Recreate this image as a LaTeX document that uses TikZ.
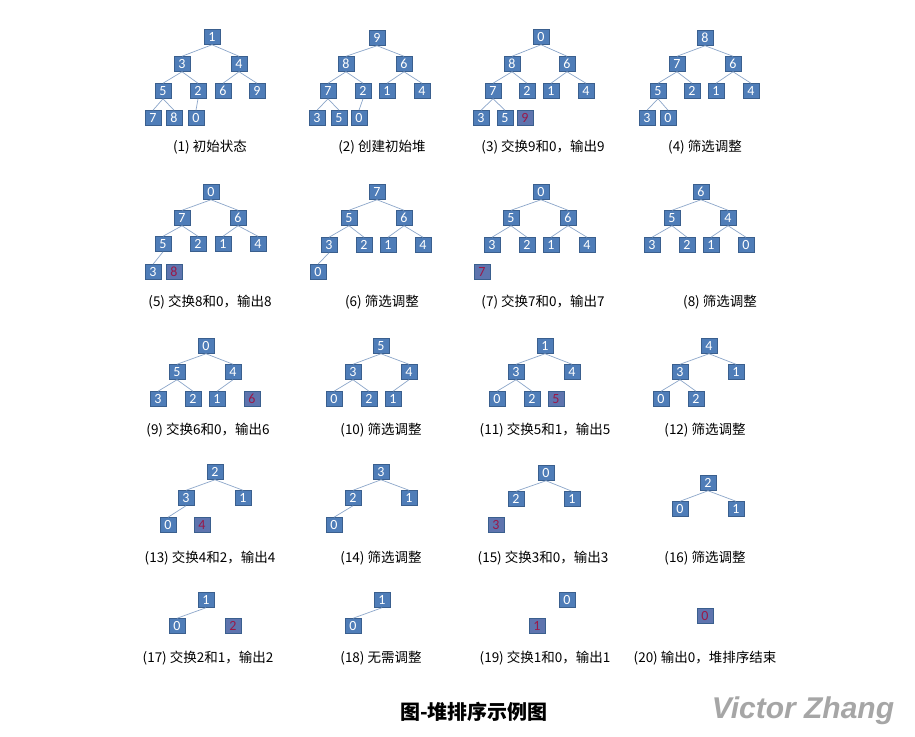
\documentclass[tikz,border=0pt]{standalone}
\usepackage{fontspec}
\setmainfont{Carlito}
\newfontfamily\cjk{Noto Sans CJK SC}
\newfontfamily\wmfont{Liberation Sans}
\definecolor{boxfill}{HTML}{4F7DB8}
\definecolor{boxline}{HTML}{3A5F8E}
\definecolor{outfill}{HTML}{5E74AE}
\definecolor{outtext}{HTML}{9A1848}
\definecolor{edgecol}{HTML}{8CA6CA}
\begin{document}
\begin{tikzpicture}[x=1pt,y=-1pt,
  box/.style={draw=boxline,fill=boxfill,line width=0.5pt,minimum width=16pt,minimum height=15pt,inner sep=0pt,text=white,font=\fontsize{14}{14}\selectfont},
  outbox/.style={box,fill=outfill,text=outtext},
  edge/.style={draw=edgecol,line width=0.7pt},
  lab/.style={font=\cjk\fontsize{13.5}{15}\selectfont,text=black,inner sep=0pt}]
\useasboundingbox (0,0) rectangle (915,736);
\fill[white] (0,0) rectangle (915,736);
\newcommand\lnk[2]{\draw[edge] (#1.south) -- (#2.north);}
% Panel 1
\node[box] (a1) at (212,37) {1};
\node[box] (a3) at (182,64) {3};
\node[box] (a4) at (239,64) {4};
\node[box] (a5) at (163,91) {5};
\node[box] (a2) at (198,91) {2};
\node[box] (a6) at (223,91) {6};
\node[box] (a9) at (257,91) {9};
\node[box] (a7) at (153,118) {7};
\node[box] (a8) at (174,118) {8};
\node[box] (a0) at (196,118) {0};
\lnk{a1}{a3}\lnk{a1}{a4}\lnk{a3}{a5}\lnk{a3}{a2}\lnk{a4}{a6}\lnk{a4}{a9}\lnk{a5}{a7}\lnk{a5}{a8}\lnk{a2}{a0}
\node[lab] (la) at (210,147) {(1) 初始状态};
% Panel 2
\node[box] (b9) at (377,38) {9};
\node[box] (b8) at (346,64) {8};
\node[box] (b6) at (404,64) {6};
\node[box] (b7) at (328,91) {7};
\node[box] (b2) at (363,91) {2};
\node[box] (b1) at (387,91) {1};
\node[box] (b4) at (422,91) {4};
\node[box] (b3) at (317,118) {3};
\node[box] (b5) at (339,118) {5};
\node[box] (b0) at (359,118) {0};
\lnk{b9}{b8}\lnk{b9}{b6}\lnk{b8}{b7}\lnk{b8}{b2}\lnk{b6}{b1}\lnk{b6}{b4}\lnk{b7}{b3}\lnk{b7}{b5}\lnk{b2}{b0}
\node[lab] (lb) at (382,147) {(2) 创建初始堆};
% Panel 3
\node[box] (c0) at (541,37) {0};
\node[box] (c8) at (512,64) {8};
\node[box] (c6) at (567,64) {6};
\node[box] (c7) at (493,91) {7};
\node[box] (c2) at (527,91) {2};
\node[box] (c1) at (551,91) {1};
\node[box] (c4) at (586,91) {4};
\node[box] (c3) at (481,118) {3};
\node[box] (c5) at (505,118) {5};
\node[outbox] (c9) at (525,118) {9};
\lnk{c0}{c8}\lnk{c0}{c6}\lnk{c8}{c7}\lnk{c8}{c2}\lnk{c6}{c1}\lnk{c6}{c4}\lnk{c7}{c3}\lnk{c7}{c5}
\node[lab] (lc) at (543,147) {(3) 交换9和0，输出9};
% Panel 4
\node[box] (d8) at (705,38) {8};
\node[box] (d7) at (677,64) {7};
\node[box] (d6) at (733,64) {6};
\node[box] (d5) at (658,91) {5};
\node[box] (d2) at (692,91) {2};
\node[box] (d1) at (716,91) {1};
\node[box] (d4) at (751,91) {4};
\node[box] (d3) at (647,118) {3};
\node[box] (d0) at (668,118) {0};
\lnk{d8}{d7}\lnk{d8}{d6}\lnk{d7}{d5}\lnk{d7}{d2}\lnk{d6}{d1}\lnk{d6}{d4}\lnk{d5}{d3}\lnk{d5}{d0}
\node[lab] (ld) at (705,147) {(4) 筛选调整};
% Panel 5
\node[box] (e0) at (211,192) {0};
\node[box] (e7) at (182,218) {7};
\node[box] (e6) at (238,218) {6};
\node[box] (e5) at (163,244) {5};
\node[box] (e2) at (198,244) {2};
\node[box] (e1) at (223,244) {1};
\node[box] (e4) at (258,244) {4};
\node[box] (e3) at (153,272) {3};
\node[outbox] (e8) at (174,272) {8};
\lnk{e0}{e7}\lnk{e0}{e6}\lnk{e7}{e5}\lnk{e7}{e2}\lnk{e6}{e1}\lnk{e6}{e4}\lnk{e5}{e3}
\node[lab] (le) at (210,302) {(5) 交换8和0，输出8};
% Panel 6
\node[box] (f7) at (377,192) {7};
\node[box] (f5) at (349,218) {5};
\node[box] (f6) at (404,218) {6};
\node[box] (f3) at (329,245) {3};
\node[box] (f2) at (364,245) {2};
\node[box] (f1) at (388,245) {1};
\node[box] (f4) at (423,245) {4};
\node[box] (f0) at (318,272) {0};
\lnk{f7}{f5}\lnk{f7}{f6}\lnk{f5}{f3}\lnk{f5}{f2}\lnk{f6}{f1}\lnk{f6}{f4}\lnk{f3}{f0}
\node[lab] (lf) at (382,302) {(6) 筛选调整};
% Panel 7
\node[box] (g0) at (541,192) {0};
\node[box] (g5) at (511,218) {5};
\node[box] (g6) at (568,218) {6};
\node[box] (g3) at (492,245) {3};
\node[box] (g2) at (527,245) {2};
\node[box] (g1) at (551,245) {1};
\node[box] (g4) at (587,245) {4};
\node[outbox] (g7) at (482,272) {7};
\lnk{g0}{g5}\lnk{g0}{g6}\lnk{g5}{g3}\lnk{g5}{g2}\lnk{g6}{g1}\lnk{g6}{g4}
\node[lab] (lg) at (543,302) {(7) 交换7和0，输出7};
% Panel 8
\node[box] (h6) at (701,192) {6};
\node[box] (h5) at (672,218) {5};
\node[box] (h4) at (728,218) {4};
\node[box] (h3) at (652,245) {3};
\node[box] (h2) at (687,245) {2};
\node[box] (h1) at (711,245) {1};
\node[box] (h0) at (746,245) {0};
\lnk{h6}{h5}\lnk{h6}{h4}\lnk{h5}{h3}\lnk{h5}{h2}\lnk{h4}{h1}\lnk{h4}{h0}
\node[lab] (lh) at (720,302) {(8) 筛选调整};
% Panel 9
\node[box] (i0) at (206,346) {0};
\node[box] (i5) at (177,372) {5};
\node[box] (i4) at (233,372) {4};
\node[box] (i3) at (158,399) {3};
\node[box] (i2) at (193,399) {2};
\node[box] (i1) at (217,399) {1};
\node[outbox] (i6) at (252,399) {6};
\lnk{i0}{i5}\lnk{i0}{i4}\lnk{i5}{i3}\lnk{i5}{i2}\lnk{i4}{i1}
\node[lab] (li) at (208,430) {(9) 交换6和0，输出6};
% Panel 10
\node[box] (j5) at (381,346) {5};
\node[box] (j3) at (353,372) {3};
\node[box] (j4) at (409,372) {4};
\node[box] (j0) at (334,399) {0};
\node[box] (j2) at (369,399) {2};
\node[box] (j1) at (393,399) {1};
\lnk{j5}{j3}\lnk{j5}{j4}\lnk{j3}{j0}\lnk{j3}{j2}\lnk{j4}{j1}
\node[lab] (lj) at (381,430) {(10) 筛选调整};
% Panel 11
\node[box] (k1) at (545,346) {1};
\node[box] (k3) at (516,372) {3};
\node[box] (k4) at (572,372) {4};
\node[box] (k0) at (497,399) {0};
\node[box] (k2) at (532,399) {2};
\node[outbox] (k5) at (556,399) {5};
\lnk{k1}{k3}\lnk{k1}{k4}\lnk{k3}{k0}\lnk{k3}{k2}
\node[lab] (lk) at (545,430) {(11) 交换5和1，输出5};
% Panel 12
\node[box] (l4) at (709,346) {4};
\node[box] (l3) at (680,372) {3};
\node[box] (l1) at (736,372) {1};
\node[box] (l0) at (661,399) {0};
\node[box] (l2) at (696,399) {2};
\lnk{l4}{l3}\lnk{l4}{l1}\lnk{l3}{l0}\lnk{l3}{l2}
\node[lab] (ll) at (705,430) {(12) 筛选调整};
% Panel 13
\node[box] (m2) at (215,472) {2};
\node[box] (m3) at (186,498) {3};
\node[box] (m1) at (243,498) {1};
\node[box] (m0) at (168,525) {0};
\node[outbox] (m4) at (202,525) {4};
\lnk{m2}{m3}\lnk{m2}{m1}\lnk{m3}{m0}
\node[lab] (lm) at (210,558) {(13) 交换4和2，输出4};
% Panel 14
\node[box] (n3) at (381,472) {3};
\node[box] (n2) at (353,498) {2};
\node[box] (n1) at (409,498) {1};
\node[box] (n0) at (334,525) {0};
\lnk{n3}{n2}\lnk{n3}{n1}\lnk{n2}{n0}
\node[lab] (ln) at (381,558) {(14) 筛选调整};
% Panel 15
\node[box] (o0) at (546,473) {0};
\node[box] (o2) at (516,499) {2};
\node[box] (o1) at (572,499) {1};
\node[outbox] (o3) at (496,525) {3};
\lnk{o0}{o2}\lnk{o0}{o1}
\node[lab] (lo) at (543,558) {(15) 交换3和0，输出3};
% Panel 16
\node[box] (p2) at (708,483) {2};
\node[box] (p0) at (680,509) {0};
\node[box] (p1) at (736,509) {1};
\lnk{p2}{p0}\lnk{p2}{p1}
\node[lab] (lp) at (705,558) {(16) 筛选调整};
% Panel 17
\node[box] (q1) at (206,600) {1};
\node[box] (q0) at (177,626) {0};
\node[outbox] (q2) at (233,626) {2};
\lnk{q1}{q0}
\node[lab] (lq) at (208,658) {(17) 交换2和1，输出2};
% Panel 18
\node[box] (r1) at (382,600) {1};
\node[box] (r0) at (353,626) {0};
\lnk{r1}{r0}
\node[lab] (lr) at (381,658) {(18) 无需调整};
% Panel 19
\node[box] (s0) at (567,600) {0};
\node[outbox] (s1) at (537,626) {1};
\node[lab] (ls) at (545,658) {(19) 交换1和0，输出1};
% Panel 20
\node[outbox] (t0) at (705,616) {0};
\node[lab] (lt) at (705,658) {(20) 输出0，堆排序结束};
% Title and watermark
\node[font=\cjk\bfseries\fontsize{20}{22}\selectfont,inner sep=0pt] (title) at (474,712) {图-堆排序示例图};
\node[font=\wmfont\bfseries\itshape\fontsize{30}{31}\selectfont,text=gray!70,inner sep=0pt] (wm) at (803,711) {Victor Zhang};
\end{tikzpicture}
\end{document}
